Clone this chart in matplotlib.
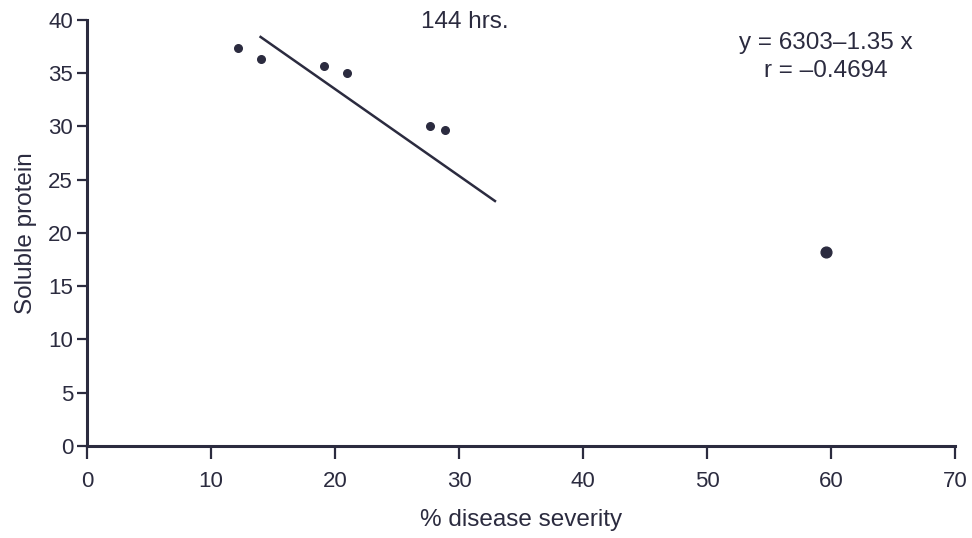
import matplotlib
matplotlib.use("Agg")
import matplotlib.pyplot as plt

# values
severity = [12.2, 14.0, 19.1, 21.0, 27.7, 28.9]
protein = [37.4, 36.3, 35.7, 35.0, 30.0, 29.7]
outlier_x = [59.6]
outlier_y = [18.2]
fit_x = [14.0, 32.9]
fit_y = [38.4, 23.0]
x_ticks = [0, 10, 20, 30, 40, 50, 60, 70]
y_ticks = [0, 5, 10, 15, 20, 25, 30, 35, 40]

ink = "#2b2b3f"
plt.rcParams["font.family"] = ["Liberation Sans", "DejaVu Sans"]

fig = plt.figure(figsize=(9.72, 5.38), dpi=100)
ax = fig.add_axes([0.0895, 0.171, 0.893, 0.792])

ax.plot(fit_x, fit_y, color=ink, lw=1.8)
ax.scatter(severity, protein, s=30, color=ink, zorder=3)
ax.scatter(outlier_x, outlier_y, s=60, color=ink, zorder=3)

ax.set_xlim(0, 70)
ax.set_ylim(0, 40)
ax.set_xticks(x_ticks)
ax.set_yticks(y_ticks)
for side in ["top", "right"]:
    ax.spines[side].set_visible(False)
for side in ["left", "bottom"]:
    ax.spines[side].set_linewidth(2.2)
    ax.spines[side].set_color(ink)
ax.tick_params(axis="x", length=9, width=1.6, color=ink, labelcolor=ink,
               labelsize=16, pad=9)
ax.tick_params(axis="y", length=7, width=1.6, color=ink, labelcolor=ink,
               labelsize=16, pad=3)

ax.set_xlabel("% disease severity", fontsize=17.5, color=ink, labelpad=12)
ax.set_ylabel("Soluble protein", fontsize=17.5, color=ink, labelpad=8)

ax.text(30.5, 39.8, "144 hrs.", ha="center", va="center", fontsize=17.5, color=ink)
ax.text(59.6, 37.8, "y = 6303\u20131.35 x", ha="center", va="center",
        fontsize=17.5, color=ink)
ax.text(59.6, 35.2, "r = \u20130.4694", ha="center", va="center",
        fontsize=17.5, color=ink)

fig.savefig("out.png", dpi=100)
